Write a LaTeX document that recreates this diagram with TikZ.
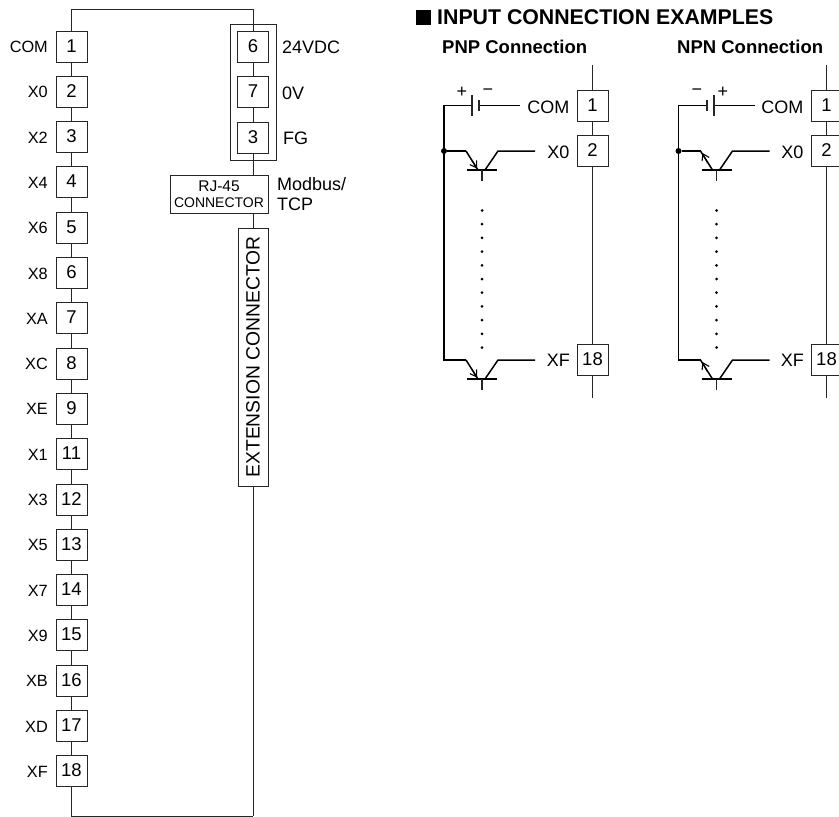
\documentclass[tikz,border=0pt]{standalone}
\usepackage{fontspec}
\setmainfont{Liberation Sans}
\usetikzlibrary{arrows.meta}
\tikzset{
  wire/.style={draw=black!85,line width=0.9pt},
  heavy/.style={draw=black,line width=1.5pt},
  term/.style={draw=black!85,line width=0.9pt,minimum width=31pt,minimum height=31pt,inner sep=0pt,text height=13pt,text depth=2pt,font=\fontsize{18.5}{18.5}\selectfont},
  lab/.style={inner sep=0pt,font=\fontsize{18}{18}\selectfont},
  labL/.style={lab,anchor=base east},
  labR/.style={lab,anchor=base west},
  boldlab/.style={inner sep=0pt,anchor=base west,font=\bfseries\fontsize{18.5}{18.5}\selectfont},
  dotmark/.style={circle,fill=black,inner sep=0pt,minimum size=#1},
}
% #1 name prefix, #2 x of the base stem, #3 y of wire, #4 1 = PNP, 0 = NPN
\newcommand{\transistor}[4]{
  \coordinate (#1e) at (#2-16,#3);
  \coordinate (#1eb) at (#2-4,#3+19);
  \coordinate (#1c) at (#2+16,#3);
  \coordinate (#1cb) at (#2+3,#3+19);
  \coordinate (#1o) at (#2+53,#3);
  \coordinate (#1bl) at (#2-15,#3+19);
  \coordinate (#1br) at (#2+15,#3+19);
  \coordinate (#1bm) at (#2,#3+19);
  \coordinate (#1s) at (#2,#3+30);
  \draw[heavy] (#1e) -- (#1eb);
  \draw[heavy] (#1o) -- (#1c) -- (#1cb);
  \draw[heavy] (#1bl) -- (#1br);
  \draw[wire,line width=1.1pt] (#1bm) -- (#1s);
  \ifnum#4=1
    \draw[line width=1.1pt,-{Straight Barb[length=6pt,width=8pt]}] (#2-10,#3+9.5) -- (#2-5,#3+17.5);
  \else
    \draw[line width=1.1pt,-{Straight Barb[length=6pt,width=8pt]}] (#2-9,#3+12) -- (#2-14,#3+2);
  \fi
}
\begin{document}
\begin{tikzpicture}[x=1pt,y=-1pt]
\useasboundingbox (0,0) rectangle (839,817);
% ---------- left strip
\coordinate (tl) at (71.5,9);
\coordinate (tr) at (253,9);
\coordinate (bl) at (71.5,816);
\coordinate (br) at (253,816);
\foreach \num/\lbl [count=\i from 0] in {1/COM,2/X0,3/X2,4/X4,5/X6,6/X8,7/XA,8/XC,9/XE,11/X1,12/X3,13/X5,14/X7,15/X9,16/XB,17/XD,18/XF}{
  \pgfmathsetmacro{\yy}{46.5+45.3*\i}
  \node[term] (L\i) at (71.5,\yy) {\num};
  \node[labL,font=\fontsize{16.3}{16.3}\selectfont] (LL\i) at (48,\yy+6) {\lbl};
}
\draw[wire] (L0) -- (tl) -- (tr);
\foreach \a/\b in {0/1,1/2,2/3,3/4,4/5,5/6,6/7,7/8,8/9,9/10,10/11,11/12,12/13,13/14,14/15,15/16}{
  \draw[wire] (L\a) -- (L\b);
}
\draw[wire] (L16) -- (bl) -- (br);
% ---------- right strip
\node[draw=black!85,line width=0.9pt,minimum width=46pt,minimum height=136pt,inner sep=0pt] (outer) at (253,92) {};
\node[term] (R6) at (253,46.5) {6};
\node[term] (R7) at (253,92) {7};
\node[term] (R3) at (253,137.5) {3};
\node[labR] (l24) at (282,53) {24VDC};
\node[labR] (l0v) at (282,99) {0V};
\node[labR] (lfg) at (283,144.5) {FG};
\node[draw=black!85,line width=0.9pt,minimum width=98pt,minimum height=38pt,inner sep=0pt] (rj) at (219,194) {};
\node[inner sep=0pt,anchor=base,font=\fontsize{15.5}{15.5}\selectfont] (rj1) at (219,191) {RJ-45};
\node[inner sep=0pt,anchor=base,font=\fontsize{14}{14}\selectfont] (rj2) at (219,207) {CONNECTOR};
\node[labR] (mb1) at (277,190) {Modbus/};
\node[labR] (mb2) at (277,210) {TCP};
\node[draw=black!85,line width=0.9pt,minimum width=30pt,minimum height=258pt,inner sep=0pt] (ext) at (253,357) {};
\node[lab,rotate=90,font=\fontsize{19.3}{19.3}\selectfont] (exttxt) at (253,357) {EXTENSION CONNECTOR};
\coordinate (rjt) at (253,175);
\coordinate (rjb) at (253,213);
\draw[wire] (tr) -- (R6);
\draw[wire] (R6) -- (R7);
\draw[wire] (R7) -- (R3);
\draw[wire] (R3) -- (rjt);
\draw[wire] (rjb) -- (ext);
\draw[wire] (ext) -- (br);
% ---------- heading
\node[fill=black,inner sep=0pt,minimum width=15pt,minimum height=15pt] (sq) at (423,17.5) {};
\node[boldlab,font=\bfseries\fontsize{21.3}{21.3}\selectfont] (title) at (437,24) {INPUT CONNECTION EXAMPLES};
\node[boldlab] (pnp) at (442,53) {PNP Connection};
\node[boldlab] (npn) at (677,53) {NPN Connection};
% ---------- PNP
\node[term] (a1) at (592.5,105.5) {1};
\node[term] (a2) at (592.5,151) {2};
\node[term] (a18) at (592.5,360) {18};
\coordinate (atop) at (592.5,65);
\coordinate (abot) at (592.5,398);
\draw[wire] (atop) -- (a1);
\draw[wire] (a1) -- (a2);
\draw[wire] (a2) -- (a18);
\draw[wire] (a18) -- (abot);
\node[labL] (acom) at (569.5,113) {COM};
\node[labL] (ax0) at (569.5,158) {X0};
\node[labL] (axf) at (570,366.5) {XF};
\transistor{at}{482}{151}{1}
\transistor{ab}{482}{360}{1}
\coordinate (ab1) at (444,105.5);
\coordinate (abr) at (444,360);
\coordinate (ap1) at (472,105.5);
\coordinate (ap1t) at (472,95);
\coordinate (ap1b) at (472,116);
\coordinate (ap2) at (479,105.5);
\coordinate (ap2t) at (479,100);
\coordinate (ap2b) at (479,111);
\coordinate (ap3) at (520,105.5);
\draw[heavy] (ap2) -- (ap3);
\draw[heavy,line join=miter] (ap1) -- (ab1) -- (abr) -- (abe);
\draw[wire,line width=1.1pt] (ap1t) -- (ap1b);
\draw[wire,line width=1.1pt] (ap2t) -- (ap2b);
\node[dotmark=6pt] (ad) at (444,151) {};
\draw[heavy] (ad) -- (ate);
\node[lab] (aplus) at (462,92) {+};
\node[lab] (aminus) at (488,92) {−};
\foreach \j in {0,...,10}{
  \node[dotmark=3pt] (ado\j) at (482,{210.5+13.7*\j}) {};
}
% ---------- NPN
\node[term] (b1) at (826.5,105.5) {1};
\node[term] (b2) at (826.5,151) {2};
\node[term] (b18) at (826.5,360) {18};
\coordinate (btop) at (826.5,65);
\coordinate (bbot) at (826.5,398);
\draw[wire] (btop) -- (b1);
\draw[wire] (b1) -- (b2);
\draw[wire] (b2) -- (b18);
\draw[wire] (b18) -- (bbot);
\node[labL] (bcom) at (803.5,113) {COM};
\node[labL] (bx0) at (803.5,158) {X0};
\node[labL] (bxf) at (804,366.5) {XF};
\transistor{bt}{716.5}{151}{0}
\transistor{bb}{716.5}{360}{0}
\coordinate (bb1) at (678.5,105.5);
\coordinate (bbr) at (678.5,360);
\coordinate (bp1) at (707,105.5);
\coordinate (bp1t) at (707,100);
\coordinate (bp1b) at (707,111);
\coordinate (bp2) at (714,105.5);
\coordinate (bp2t) at (714,95);
\coordinate (bp2b) at (714,116);
\coordinate (bp3) at (755,105.5);
\draw[heavy] (bp2) -- (bp3);
\draw[heavy,line join=miter] (bp1) -- (bb1) -- (bbr) -- (bbe);
\draw[wire,line width=1.1pt] (bp1t) -- (bp1b);
\draw[wire,line width=1.1pt] (bp2t) -- (bp2b);
\node[dotmark=6pt] (bd) at (678.5,151) {};
\draw[heavy] (bd) -- (bte);
\node[lab] (bminus) at (697,92) {−};
\node[lab] (bplus) at (723,92) {+};
\foreach \j in {0,...,10}{
  \node[dotmark=3pt] (bdo\j) at (716.5,{210.5+13.7*\j}) {};
}
\end{tikzpicture}
\end{document}
